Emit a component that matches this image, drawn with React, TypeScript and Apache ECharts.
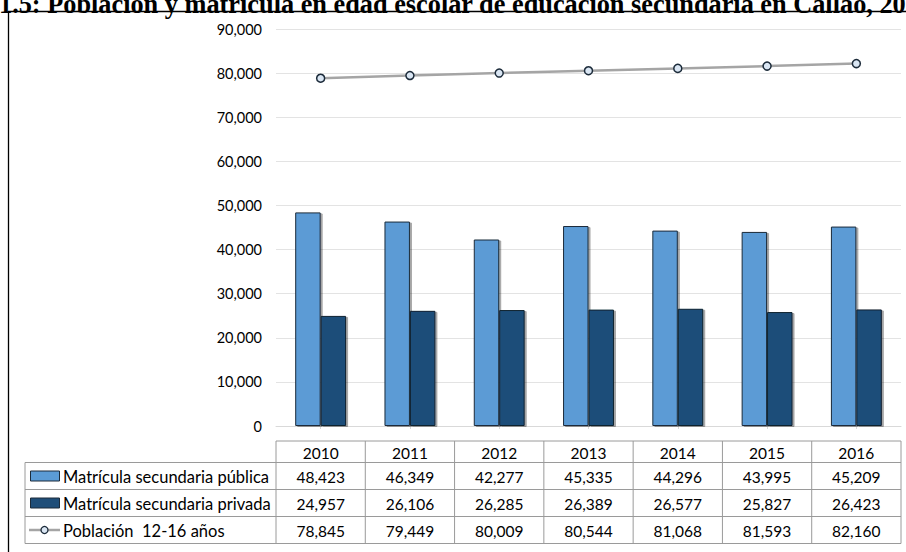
import React, { useEffect, useRef } from "react";
import * as echarts from "echarts";

const years = ["2010", "2011", "2012", "2013", "2014", "2015", "2016"];
const publica = [48423, 46349, 42277, 45335, 44296, 43995, 45209];
const privada = [24957, 26106, 26285, 26389, 26577, 25827, 26423];
const poblacion = [78845, 79449, 80009, 80544, 81068, 81593, 82160];
const seriesNames = [
  "Matrícula secundaria pública",
  "Matrícula secundaria privada",
  "Población  12-16 años",
];
const title =
  "1.5: Población y matrícula en edad escolar de educación secundaria en Callao, 2010-2016";

const fmt = (v: number) => v.toLocaleString("en-US");

const W = 906;
const H = 552;
const GL = 276;
const GR = 901;
const GT = 29;
const GB = 426;
const FONT = "Lato, 'Open Sans', sans-serif";
const LIGHT = "#5b9bd5";
const DARK = "#1f4e79";
const TBL = "#9a9a9a";

export default function App() {
  const ref = useRef<HTMLDivElement>(null);
  useEffect(() => {
    if (!ref.current) return;
    const chart = echarts.init(ref.current, undefined, { renderer: "svg" });
    const cw = (GR - GL) / years.length;
    const rowY = [441, 462.5, 489.5, 516.5, 543.5];
    const g: any[] = [];
    // outer frame
    g.push({
      type: "rect",
      shape: { x: 8.5, y: 11.5, width: 1000, height: 700 },
      style: { fill: "none", stroke: "#000", lineWidth: 1.3 },
      silent: true,
    });
    // title (cut off at the page edges as in the reference)
    g.push({
      type: "text",
      x: -1,
      y: 17.3,
      style: {
        text: title,
        font: "bold 26.3px 'Liberation Serif', 'Times New Roman', serif",
        fill: "#000",
        textAlign: "left",
        verticalAlign: "bottom",
      },
      silent: true,
    });
    // table lines
    g.push({ type: "line", shape: { x1: GL, y1: rowY[0], x2: GR, y2: rowY[0] }, style: { stroke: TBL, lineWidth: 1 } });
    for (let i = 1; i < rowY.length; i++) {
      g.push({ type: "line", shape: { x1: 25, y1: rowY[i], x2: GR, y2: rowY[i] }, style: { stroke: TBL, lineWidth: 1 } });
    }
    g.push({ type: "line", shape: { x1: 25, y1: rowY[1], x2: 25, y2: rowY[4] }, style: { stroke: TBL, lineWidth: 1 } });
    for (let i = 0; i <= years.length; i++) {
      const x = GL + i * cw;
      g.push({ type: "line", shape: { x1: x, y1: rowY[0], x2: x, y2: rowY[4] }, style: { stroke: TBL, lineWidth: 1 } });
    }
    const rows = [publica, privada, poblacion];
    years.forEach((y, i) => {
      const cx = GL + (i + 0.5) * cw;
      g.push({
        type: "text",
        x: cx,
        y: (rowY[0] + rowY[1]) / 2 + 1,
        style: { text: y, font: `15.5px ${FONT}`, fill: "#000", align: "center", verticalAlign: "middle" },
      });
      rows.forEach((r, j) => {
        g.push({
          type: "text",
          x: cx,
          y: (rowY[j + 1] + rowY[j + 2]) / 2 + 1,
          style: { text: fmt(r[i]), font: `15.5px ${FONT}`, fill: "#000", align: "center", verticalAlign: "middle" },
        });
      });
    });
    // legend column
    seriesNames.forEach((name, j) => {
      const cy = (rowY[j + 1] + rowY[j + 2]) / 2;
      if (j < 2) {
        g.push({
          type: "rect",
          shape: { x: 30.5, y: cy - 5, width: 29, height: 10 },
          style: { fill: j === 0 ? LIGHT : DARK, stroke: "#1c2b3a", lineWidth: 1 },
        });
      } else {
        g.push({ type: "line", shape: { x1: 29, y1: cy, x2: 60, y2: cy }, style: { stroke: "#a5a5a5", lineWidth: 2.5 } });
        g.push({ type: "circle", shape: { cx: 44.5, cy, r: 3.5 }, style: { fill: "#dae6f3", stroke: "#1c2b3a", lineWidth: 1.3 } });
      }
      g.push({
        type: "text",
        x: 63,
        y: cy + 1,
        style: { text: name, font: `16.5px ${FONT}`, fill: "#000", align: "left", verticalAlign: "middle" },
      });
    });

    chart.setOption({
      animation: false,
      backgroundColor: "#fff",
      grid: { left: GL, right: W - GR, top: GT, bottom: H - GB, containLabel: false },
      xAxis: {
        type: "category",
        data: years,
        axisLine: { show: true, lineStyle: { color: "#d9d9d9", width: 1 } },
        axisTick: { show: true, alignWithLabel: true, length: 3, lineStyle: { color: "#d9d9d9" } },
        axisLabel: { show: false },
      },
      yAxis: {
        type: "value",
        min: 0,
        max: 90000,
        interval: 10000,
        axisLine: { show: false },
        axisTick: { show: false },
        splitLine: { lineStyle: { color: "#e3e3e3", width: 1 } },
        axisLabel: {
          formatter: (v: number) => fmt(v),
          fontFamily: FONT,
          fontSize: 14.5,
          color: "#000",
          margin: 14,
        },
      },
      series: [
        {
          name: seriesNames[0],
          type: "bar",
          data: publica,
          barGap: "0%",
          barCategoryGap: "43%",
          itemStyle: {
            color: LIGHT,
            borderColor: "#1c2b3a",
            borderWidth: 1,
            shadowColor: "rgba(0,0,0,0.35)",
            shadowOffsetX: 2,
            shadowOffsetY: 1,
            shadowBlur: 1,
          },
        },
        {
          name: seriesNames[1],
          type: "bar",
          data: privada,
          itemStyle: {
            color: DARK,
            borderColor: "#10202f",
            borderWidth: 1,
            shadowColor: "rgba(0,0,0,0.35)",
            shadowOffsetX: 2,
            shadowOffsetY: 1,
            shadowBlur: 1,
          },
        },
        {
          name: seriesNames[2],
          type: "line",
          data: poblacion,
          symbol: "circle",
          symbolSize: 8,
          lineStyle: { color: "#a5a5a5", width: 2.5 },
          itemStyle: { color: "#dae6f3", borderColor: "#1c2b3a", borderWidth: 1.5 },
          z: 5,
        },
      ],
      graphic: g,
    });
    return () => chart.dispose();
  }, []);
  return (
    <div
      ref={ref}
      style={{ position: "fixed", left: 0, top: 0, width: W, height: H, background: "#fff" }}
    />
  );
}
